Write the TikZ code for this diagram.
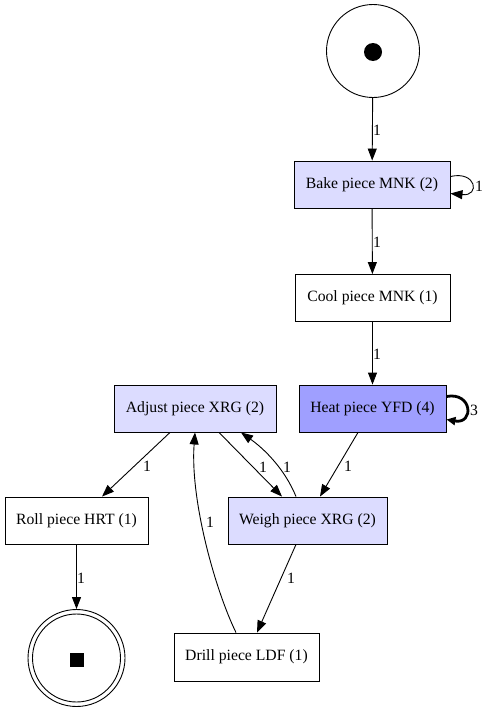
\documentclass[tikz,border=0pt]{standalone}
\usepackage{fontspec}
\setmainfont{Liberation Serif}
\usetikzlibrary{arrows.meta}
\definecolor{freqlow}{HTML}{DCDCFF}
\definecolor{freqhigh}{HTML}{9F9FFF}
\begin{document}
\begin{tikzpicture}[x=1pt,y=-1pt,
  every node/.style={font=\fontsize{15.7}{18}\selectfont},
  act/.style={draw,line width=0.9pt,inner sep=0pt,minimum height=47pt},
  lbl/.style={inner sep=0pt,anchor=center},
  flow/.style={line width=0.9pt,-{Triangle[length=12pt,width=9pt]}},
  heavy/.style={line width=2.8pt,-{Triangle[length=9pt,width=8pt]}}]
\useasboundingbox (0,0) rectangle (488,712);

% places
\node[draw,circle,line width=0.9pt,minimum size=93pt,inner sep=0pt] (start) at (373,51) {};
\fill (373,52) circle (9pt);
\node[draw,circle,line width=0.9pt,minimum size=97pt,inner sep=0pt] (end) at (76.5,658) {};
\draw[line width=0.9pt] (end.center) circle (44pt);
\fill (70,653) rectangle (84,667);

% activities
\node[act,fill=freqlow,minimum width=156pt] (bake) at (372,184.5) {Bake piece MNK (2)};
\node[act,minimum width=155pt] (cool) at (372.5,298) {Cool piece MNK (1)};
\node[act,fill=freqhigh,minimum width=147pt] (heat) at (372.5,408.5) {Heat piece YFD (4)};
\node[act,fill=freqlow,minimum width=162pt] (adjust) at (195,408.5) {Adjust piece XRG (2)};
\node[act,fill=freqlow,minimum width=159pt] (weigh) at (307.5,520.5) {Weigh piece XRG (2)};
\node[act,minimum width=143pt] (roll) at (76.5,520.5) {Roll piece HRT (1)};
\node[act,minimum width=145pt,minimum height=48pt] (drill) at (246.5,657) {Drill piece LDF (1)};

% arcs
\draw[flow] (start) -- (bake);
\draw[flow] ([yshift=8pt]bake.east) .. controls +(26,-6) and +(30,3) .. ([yshift=-9pt]bake.east);
\draw[flow] (bake) -- (cool);
\draw[flow] (cool) -- (heat);
\draw[heavy] ([yshift=12pt]heat.east) .. controls +(26,-5) and +(28,5) .. ([yshift=-11pt]heat.east);
\draw[flow] ([xshift=-14.5pt]heat.south) -- ([xshift=12.5pt]weigh.north);
\draw[flow] ([xshift=-25pt]adjust.south) -- ([xshift=25.5pt]roll.north);
\draw[flow] ([xshift=24pt]adjust.south) -- ([xshift=-25.5pt]weigh.north);
\draw[flow] ([xshift=-11.5pt]weigh.north) .. controls +(-11,-27) and +(24,17) .. ([xshift=46pt]adjust.south);
\draw[flow] ([xshift=-10.5pt]drill.north) .. controls +(-21,-43) and +(-5,67) .. (adjust.south);
\draw[flow] ([xshift=-11.5pt]weigh.south) -- ([xshift=10.5pt]drill.north);
\draw[flow] (roll) -- (end);

% arc weights
\node[lbl] (w1) at (377,130) {1};
\node[lbl] (w2) at (479,186) {1};
\node[lbl] (w3) at (377,242) {1};
\node[lbl] (w4) at (377,354) {1};
\node[lbl] (w5) at (474,410) {3};
\node[lbl] (w6) at (147,466) {1};
\node[lbl] (w7) at (263,467) {1};
\node[lbl] (w8) at (287,467) {1};
\node[lbl] (w9) at (348,466) {1};
\node[lbl] (w10) at (210,522) {1};
\node[lbl] (w11) at (291,578) {1};
\node[lbl] (w12) at (81,578) {1};
\end{tikzpicture}
\end{document}
